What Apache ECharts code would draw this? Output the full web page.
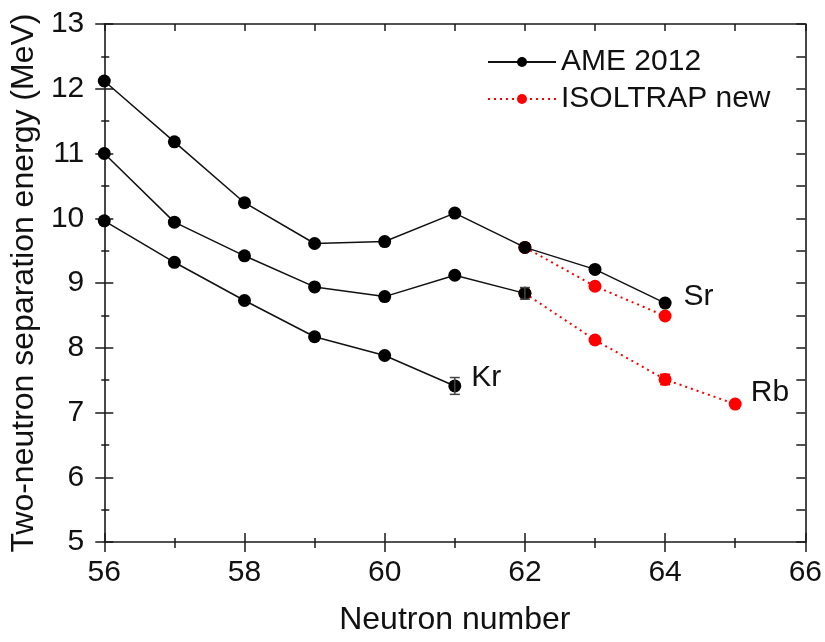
<!DOCTYPE html>
<html><head><meta charset="utf-8">
<script src="https://cdn.jsdelivr.net/npm/echarts@6/dist/echarts.min.js"></script>
<style>html,body{margin:0;padding:0;background:#fff}#c{width:825px;height:642px}</style>
</head><body><div id="c"></div>
<script>
// ---- data ----
const srN    = [56, 57, 58, 59, 60, 61, 62, 63, 64];
const srAME  = [12.12, 11.18, 10.24, 9.61, 9.64, 10.08, 9.55, 9.21, 8.69];
const rbN    = [56, 57, 58, 59, 60, 61, 62];
const rbAME  = [11.00, 9.94, 9.42, 8.94, 8.79, 9.12, 8.84];
const krN    = [56, 57, 58, 59, 60, 61];
const krAME  = [9.96, 9.32, 8.73, 8.17, 7.88, 7.41];
const srNewN = [62, 63, 64];
const srNew  = [9.55, 8.95, 8.49];
const rbNewN = [62, 63, 64, 65];
const rbNew  = [8.84, 8.12, 7.51, 7.13];
const errN     = [61, 62, 63, 64];
const errVal   = [7.41, 8.84, 8.95, 7.51];
const errSize  = [0.13, 0.09, 0.05, 0.08];
const errGroup = ['AME 2012', 'AME 2012', 'ISOLTRAP new', 'ISOLTRAP new'];
const seriesNames = ['AME 2012', 'ISOLTRAP new'];
const elementLabels = ['Sr', 'Rb', 'Kr'];
const xTicks = [56, 58, 60, 62, 64, 66];
const yTicks = [5, 6, 7, 8, 9, 10, 11, 12, 13];

// ---- styles ----
const FONT = "'Liberation Sans', Arial, Helvetica, sans-serif";
const INK = '#111';
const AX = '#1a1a1a';
const BLACK = '#000';
const RED = '#ff0000';

function zip(xs, ys) { return xs.map((x, i) => [x, ys[i]]); }
function withLabel(points, text, dist, off) {
  const last = points.length - 1;
  return points.map((p, i) => i === last ? {
    value: p,
    label: { show: true, formatter: text, position: 'right', distance: dist, offset: off,
             fontSize: 30, color: INK, fontFamily: FONT }
  } : p);
}

const chart = echarts.init(document.getElementById('c'), null, { renderer: 'canvas' });

const axLine = { show: true, onZero: false, lineStyle: { color: AX, width: 1.6 } };
const tickStyle = { color: AX, width: 1.5 };

const blackLine = (data) => ({
  name: seriesNames[0], type: 'line', data, symbol: 'circle', symbolSize: 13,
  itemStyle: { color: BLACK }, lineStyle: { color: '#111', width: 1.5 },
  z: 4, clip: false, emphasis: { disabled: true }, silent: true
});
const redLine = (data) => ({
  name: seriesNames[1], type: 'line', data, symbol: 'circle', symbolSize: 13,
  itemStyle: { color: RED }, lineStyle: { color: RED, width: 2, type: [2, 4] },
  z: 3, clip: false, emphasis: { disabled: true }, silent: true
});

const option = {
  animation: false,
  backgroundColor: '#fff',
  textStyle: { fontFamily: FONT },
  grid: { left: 104, right: 19, top: 24, bottom: 100, containLabel: false },
  legend: {
    data: seriesNames, orient: 'vertical', left: 487, top: 47, padding: 0,
    itemWidth: 68, itemHeight: 12.5, itemGap: 7, selectedMode: false,
    textStyle: { fontSize: 30, lineHeight: 29, color: INK, fontFamily: FONT }
  },
  xAxis: [
    { type: 'value', min: xTicks[0], max: xTicks[xTicks.length - 1], interval: 2, position: 'bottom',
      axisLine: axLine,
      axisTick: { show: true, inside: false, length: 10, lineStyle: tickStyle },
      minorTick: { show: true, splitNumber: 2, length: 6, lineStyle: tickStyle },
      axisLabel: { fontSize: 30, margin: 16, color: INK, fontFamily: FONT },
      splitLine: { show: false }, minorSplitLine: { show: false },
      name: 'Neutron number', nameLocation: 'middle', nameGap: 62,
      nameTextStyle: { fontSize: 32, color: INK, fontFamily: FONT } },
    { type: 'value', min: 56, max: 66, interval: 2, position: 'bottom',
      axisLine: { show: false, onZero: false },
      axisTick: { show: true, inside: true, length: 9, lineStyle: tickStyle },
      minorTick: { show: true, splitNumber: 2, length: 4, lineStyle: tickStyle },
      axisLabel: { show: false }, splitLine: { show: false } },
    { type: 'value', min: 56, max: 66, interval: 1, position: 'top',
      axisLine: axLine,
      axisTick: { show: true, inside: true, length: 7, lineStyle: tickStyle },
      axisLabel: { show: false }, splitLine: { show: false } }
  ],
  yAxis: [
    { type: 'value', min: yTicks[0], max: yTicks[yTicks.length - 1], interval: 1, position: 'left',
      axisLine: axLine,
      axisTick: { show: true, inside: false, length: 9, lineStyle: tickStyle },
      minorTick: { show: true, splitNumber: 2, length: 3, lineStyle: tickStyle },
      axisLabel: { fontSize: 30, margin: 20, color: INK, fontFamily: FONT },
      splitLine: { show: false }, minorSplitLine: { show: false },
      name: 'Two-neutron separation energy (MeV)', nameLocation: 'middle', nameGap: 62,
      nameTextStyle: { fontSize: 32, color: INK, fontFamily: FONT } },
    { type: 'value', min: 5, max: 13, interval: 1, position: 'left',
      axisLine: { show: false, onZero: false },
      axisTick: { show: true, inside: true, length: 9, lineStyle: tickStyle },
      minorTick: { show: true, splitNumber: 2, length: 5, lineStyle: tickStyle },
      axisLabel: { show: false }, splitLine: { show: false } },
    { type: 'value', min: 5, max: 13, interval: 0.5, position: 'right',
      axisLine: axLine,
      axisTick: { show: true, inside: true, length: 9, lineStyle: tickStyle },
      axisLabel: { show: false }, splitLine: { show: false } }
  ],
  series: [
    redLine(zip(srNewN, srNew)),
    redLine(withLabel(zip(rbNewN, rbNew), elementLabels[1], 9, [0, -11])),
    blackLine(withLabel(zip(srN, srAME), elementLabels[0], 12, [0, -6])),
    blackLine(zip(rbN, rbAME)),
    blackLine(withLabel(zip(krN, krAME), elementLabels[2], 10, [0, -8])),
    {
      type: 'custom', z: 5, silent: true,
      data: errN.map((n, i) => [n, errVal[i], errSize[i], i]),
      renderItem: function (params, api) {
        const x = api.value(0), y = api.value(1), e = api.value(2), idx = api.value(3);
        const col = errGroup[idx] === seriesNames[1] ? RED : '#444';
        const t = api.coord([x, y + e]), b = api.coord([x, y - e]);
        const hw = 5;
        const st = { stroke: col, lineWidth: 1.5 };
        return { type: 'group', children: [
          { type: 'line', shape: { x1: t[0], y1: t[1], x2: b[0], y2: b[1] }, style: st },
          { type: 'line', shape: { x1: t[0] - hw, y1: t[1], x2: t[0] + hw, y2: t[1] }, style: st },
          { type: 'line', shape: { x1: b[0] - hw, y1: b[1], x2: b[0] + hw, y2: b[1] }, style: st }
        ]};
      }
    }
  ]
};
chart.setOption(option);
</script>
</body></html>
